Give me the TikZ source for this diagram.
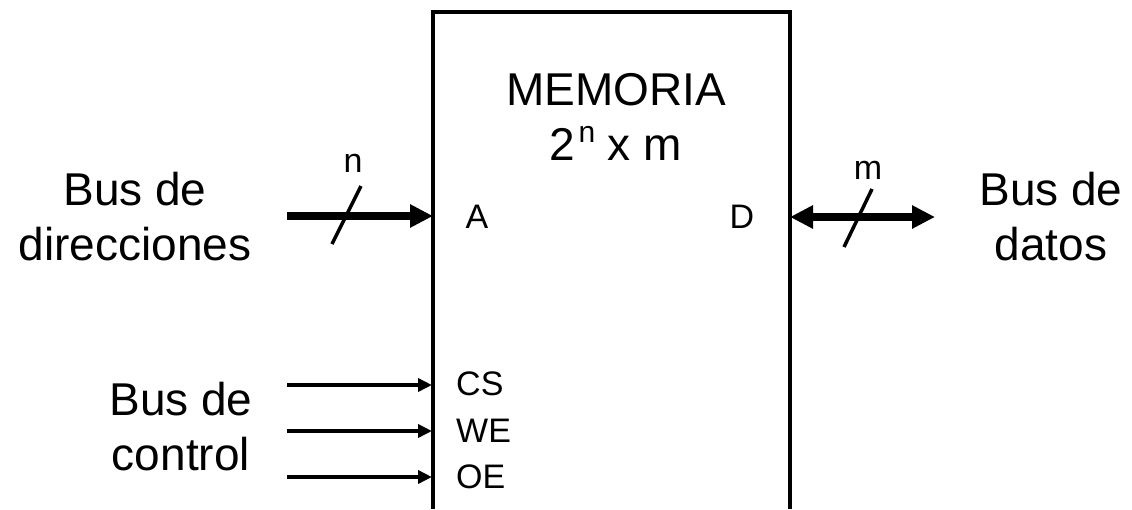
\documentclass[tikz,border=0pt]{standalone}
\usepackage{fontspec}
\setmainfont{Liberation Sans}
\usetikzlibrary{arrows.meta, positioning}

\tikzset{
  bigtxt/.style={font=\fontsize{46}{55}\selectfont, align=center, inner sep=0pt},
  smalltxt/.style={font=\fontsize{34}{40}\selectfont, inner sep=0pt},
  busarrow/.style={line width=8pt, -{Triangle[length=23pt,width=22pt]}},
  busbiarrow/.style={line width=8pt, {Triangle[length=23pt,width=22pt]}-{Triangle[length=23pt,width=22pt]}},
  ctrlarrow/.style={line width=4pt, -{Triangle[length=14pt,width=13pt]}},
  slash/.style={line width=3.5pt},
}

\begin{document}
\begin{tikzpicture}[x=1pt, y=-1pt]
  \useasboundingbox (0,0) rectangle (1132,509);

  % memory block, open at the bottom
  \draw[line width=4pt] (433,509) -- (433,12) -- (790,12) -- (790,509);
  \node[bigtxt, anchor=base] (mem) at (616,160)
    {MEMORIA\\2\kern3pt\raisebox{18pt}{\fontsize{30}{30}\selectfont n} x m};

  % ports
  \node[smalltxt, anchor=base] (A) at (477,228) {A};
  \node[smalltxt, anchor=base] (D) at (742,228) {D};
  \node[smalltxt, anchor=base west] (CS) at (456,395) {CS};
  \node[smalltxt, anchor=base west] (WE) at (456,442) {WE};
  \node[smalltxt, anchor=base west] (OE) at (456,488) {OE};

  % bus labels
  \node[bigtxt, anchor=base] (dir) at (135,260) {Bus de\\direcciones};
  \node[bigtxt, anchor=base] (dat) at (1051,260) {Bus de\\datos};
  \node[bigtxt, anchor=base] (ctl) at (181,470) {Bus de\\control};

  % address bus
  \coordinate (a src) at (287,216);
  \coordinate (a in) at (433,216);
  \draw[busarrow] (a src) -- (a in);
  \draw[slash] (361,186) -- (332,244);
  \node[smalltxt, anchor=base] (nbits) at (353,172) {n};

  % data bus
  \coordinate (d in) at (790,217);
  \coordinate (d dst) at (935,217);
  \draw[busbiarrow] (d in) -- (d dst);
  \draw[slash] (872,189) -- (844,247);
  \node[smalltxt, anchor=base] (mbits) at (868,179) {m};

  % control lines
  \foreach \y/\name in {385/cs, 431/we, 477/oe} {
    \coordinate (\name src) at (287,\y);
    \coordinate (\name in) at (432,\y);
    \draw[ctrlarrow] (\name src) -- (\name in);
  }
\end{tikzpicture}
\end{document}
